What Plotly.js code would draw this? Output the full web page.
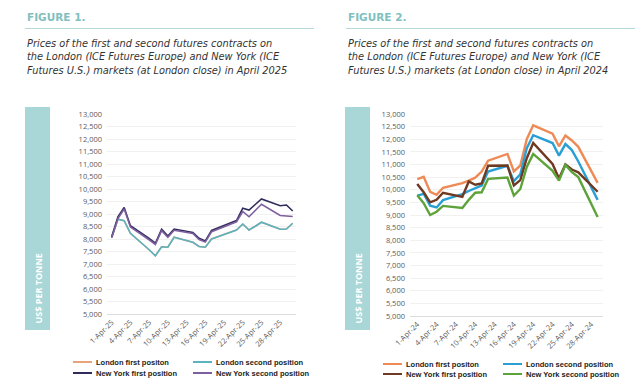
<!DOCTYPE html>
<html>
<head>
<meta charset="utf-8">
<script src="https://cdn.plot.ly/plotly-3.0.1.min.js"></script>
<style>html,body{margin:0;padding:0;background:#fff;}#chart{width:640px;height:392px;}</style>
</head>
<body>
<div id="chart"></div>
<script>
// ---- Data (US$ per tonne) ----
const dates2025 = ['2025-04-01','2025-04-02','2025-04-03','2025-04-04','2025-04-07','2025-04-08','2025-04-09','2025-04-10','2025-04-11','2025-04-14','2025-04-15','2025-04-16','2025-04-17','2025-04-21','2025-04-22','2025-04-23','2025-04-24','2025-04-25','2025-04-28','2025-04-29','2025-04-30'];
const londonFirst2025  = [8050, 8790, 8730, 8230, 7570, 7330, 7690, 7670, 8070, 7870, 7700, 7670, 8000, 8360, 8600, 8360, 8510, 8670, 8390, 8400, 8630];
const londonSecond2025 = [8050, 8790, 8730, 8230, 7570, 7330, 7690, 7670, 8070, 7870, 7700, 7670, 8000, 8360, 8600, 8360, 8510, 8670, 8390, 8400, 8630];
const nyFirst2025      = [8090, 8890, 9260, 8530, 8020, 7830, 8390, 8120, 8400, 8260, 8030, 7920, 8340, 8740, 9230, 9160, 9380, 9600, 9330, 9360, 9120];
const nySecond2025     = [8050, 8820, 9200, 8480, 7970, 7780, 8330, 8070, 8350, 8220, 7980, 7880, 8290, 8690, 9100, 8890, 9140, 9390, 8940, 8920, 8900];

const dates2024 = ['2024-04-01','2024-04-02','2024-04-03','2024-04-04','2024-04-05','2024-04-08','2024-04-09','2024-04-10','2024-04-11','2024-04-12','2024-04-15','2024-04-16','2024-04-17','2024-04-18','2024-04-19','2024-04-22','2024-04-23','2024-04-24','2024-04-25','2024-04-26','2024-04-29'];
const londonFirst2024  = [10420, 10510, 9920, 9800, 10080, 10260, 10360, 10480, 10720, 11150, 11420, 10730, 10960, 12000, 12550, 12220, 11720, 12150, 11950, 11700, 10270];
const londonSecond2024 = [9770, 9840, 9370, 9300, 9590, 9830, 9950, 10050, 10170, 10720, 10950, 10340, 10610, 11650, 12160, 11850, 11350, 11810, 11570, 11120, 9600];
const nyFirst2024      = [10230, 9900, 9500, 9600, 9880, 9720, 10330, 10200, 10250, 10950, 10960, 10170, 10380, 11250, 11850, 11020, 10450, 11000, 10800, 10690, 9920];
const nySecond2024     = [9780, 9470, 9000, 9130, 9360, 9280, 9600, 9880, 9900, 10430, 10480, 9770, 10030, 10900, 11420, 10750, 10360, 10980, 10700, 10500, 8920];

const seriesNames = ['London first positon', 'London second position', 'New York first position', 'New York second position'];
const figureTitles = ['FIGURE 1.', 'FIGURE 2.'];
const captions2025 = ['Prices of the first and second futures contracts on', 'the London (ICE Futures Europe) and New York (ICE', 'Futures U.S.) markets (at London close) in April 2025'];
const captions2024 = ['Prices of the first and second futures contracts on', 'the London (ICE Futures Europe) and New York (ICE', 'Futures U.S.) markets (at London close) in April 2024'];
const yTitle = 'US$ PER TONNE';

// ---- Styling ----
const W = 640, H = 392;
const colors2025 = ['#e8a37a', '#5bb3c0', '#2f2b5c', '#7d5f9e'];
const colors2024 = ['#ee8a55', '#2a9fd4', '#6e3a22', '#5ca33a'];
const px = x => x / W;
const py = y => 1 - y / H;

const traces = [];
const s2025 = [londonFirst2025, londonSecond2025, nyFirst2025, nySecond2025];
const s2024 = [londonFirst2024, londonSecond2024, nyFirst2024, nySecond2024];
s2025.forEach((vals, i) => traces.push({
  x: dates2025, y: vals, type: 'scatter', mode: 'lines', name: seriesNames[i],
  xaxis: 'x', yaxis: 'y', showlegend: false,
  line: {color: colors2025[i], width: 1.6}
}));
s2024.forEach((vals, i) => traces.push({
  x: dates2024, y: vals, type: 'scatter', mode: 'lines', name: seriesNames[i],
  xaxis: 'x2', yaxis: 'y2', showlegend: false,
  line: {color: colors2024[i], width: 2.4}
}));

const tickFont = {family: 'Open Sans, sans-serif', size: 7.5, color: '#5a5a5a'};
const yax = (dom, anchor) => ({
  domain: dom, anchor: anchor, range: [5000, 13000], dtick: 500, tickformat: ',',
  showgrid: true, gridcolor: '#f1f1f1', gridwidth: 1, zeroline: false,
  showline: false, ticks: '', tickfont: tickFont, ticklabelstandoff: 4, fixedrange: true
});
const xax = (dom, anchor, range, tick0, fmt) => ({
  domain: dom, anchor: anchor, type: 'date', range: range, tick0: tick0, dtick: 3 * 86400000,
  tickformat: fmt, tickangle: -45, showgrid: false, zeroline: false,
  showline: true, linecolor: '#dcdcdc', linewidth: 1, ticks: '', tickfont: tickFont
});

const annotations = [];
const shapes = [];
function panel(x0, titleText, caps, bandX0, names, cols, legY, legX) {
  annotations.push({xref: 'paper', yref: 'paper', x: px(x0), y: py(17), xanchor: 'left', yanchor: 'middle',
    text: '<b>' + titleText + '</b>', showarrow: false,
    font: {family: 'DejaVu Sans, Verdana, sans-serif', size: 10.5, color: '#7fc0c0'}});
  shapes.push({type: 'line', xref: 'paper', yref: 'paper', x0: px(x0), x1: px(x0 + 289), y0: py(28.5), y1: py(28.5),
    line: {color: '#b5d8d8', width: 1}});
  caps.forEach((c, i) => annotations.push({xref: 'paper', yref: 'paper', x: px(x0), y: py(43.5 + i * 13.3),
    xanchor: 'left', yanchor: 'middle', text: '<i>' + c + '</i>', showarrow: false,
    font: {family: 'DejaVu Sans, Verdana, sans-serif', size: 9.8, color: '#333333'}}));
  shapes.push({type: 'rect', xref: 'paper', yref: 'paper', x0: px(bandX0), x1: px(bandX0 + 25), y0: py(330), y1: py(107),
    fillcolor: '#a9d6d6', line: {width: 0}, layer: 'below'});
  annotations.push({xref: 'paper', yref: 'paper', x: px(bandX0 + 12.5), y: py(326), xanchor: 'center', yanchor: 'bottom',
    text: '<b>' + yTitle + '</b>', textangle: -90, showarrow: false,
    font: {family: 'Open Sans, sans-serif', size: 9, color: '#ffffff'}});
  // legend (2 columns x 2 rows)
  names.forEach((n, i) => {
    const col = i % 2, row = Math.floor(i / 2);
    const lx = legX[col], ly = legY[row];
    shapes.push({type: 'line', xref: 'paper', yref: 'paper', x0: px(lx), x1: px(lx + 19), y0: py(ly), y1: py(ly),
      line: {color: cols[i], width: 2}});
    annotations.push({xref: 'paper', yref: 'paper', x: px(lx + 20.5), y: py(ly), xanchor: 'left', yanchor: 'middle',
      text: '<b>' + n + '</b>', showarrow: false,
      font: {family: 'Liberation Sans, Arial, sans-serif', size: 7.5, color: '#222222'}});
  });
}
panel(25, figureTitles[0], captions2025, 25, seriesNames, colors2025, [362, 373], [73, 193]);
panel(346, figureTitles[1], captions2024, 345, seriesNames, colors2024, [364, 374], [383, 503]);

const layout = {
  width: W, height: H, margin: {l: 0, r: 0, t: 0, b: 0},
  paper_bgcolor: '#ffffff', plot_bgcolor: '#ffffff', showlegend: false,
  xaxis: xax([px(107), px(296)], 'y', ['2025-03-31 06:00', '2025-04-30 12:40'], '2025-04-01', '%-d-%b-%y'),
  yaxis: yax([py(314), py(114)], 'x'),
  xaxis2: xax([px(410), px(603)], 'y2', ['2024-03-30 21:00', '2024-04-29 20:00'], '2024-04-01', '%-d-%b-%y'),
  yaxis2: yax([py(316), py(114)], 'x2'),
  annotations: annotations, shapes: shapes
};
Plotly.newPlot('chart', traces, layout, {staticPlot: true, displayModeBar: false});
</script>
</body>
</html>
